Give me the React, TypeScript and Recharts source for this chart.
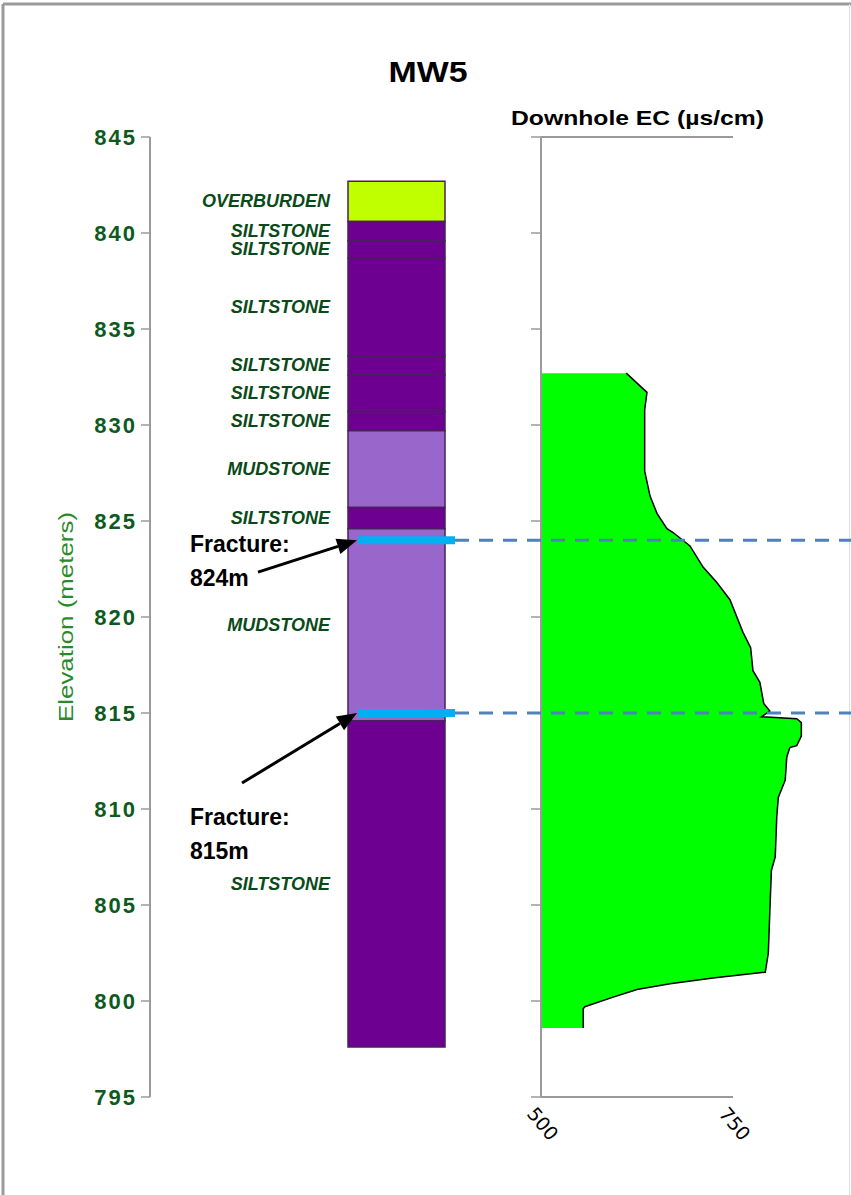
import React from "react";
import { ComposedChart, Area, XAxis, YAxis, ReferenceArea, ReferenceLine } from "recharts";

// lithology log, elevations in metres
const unitNames = [
    "OVERBURDEN", "SILTSTONE", "SILTSTONE", "SILTSTONE", "SILTSTONE", "SILTSTONE",
    "SILTSTONE", "MUDSTONE", "SILTSTONE", "MUDSTONE", "SILTSTONE",
];
const unitTops = [842.7, 840.6, 839.6, 838.7, 833.6, 832.6, 830.7, 829.7, 825.7, 824.6, 814.6];
const unitBottoms = [840.6, 839.6, 838.7, 833.6, 832.6, 830.7, 829.7, 825.7, 824.6, 814.6, 797.6];

// fracture elevations (m)
const fractures = [824, 815];

// downhole EC profile
const ecElevation = [
    832.7, 831.7, 830.8, 829.0, 827.6, 826.3, 825.4, 824.6, 824.4, 823.7, 822.6, 821.8,
    820.9, 819.2, 818.4, 817.2, 816.6, 815.5, 815.1, 814.8, 814.7, 814.5, 813.8, 813.3,
    813.2, 812.7, 811.5, 810.6, 809.6, 807.5, 806.8, 804.7, 802.5, 801.5, 801.2, 800.9,
    800.6, 800.2, 799.7, 799.6, 798.6,
];
const ecValues = [
    611, 638, 635, 635, 635, 642, 651, 664, 672, 694, 711, 729,
    746, 763, 773, 776, 785, 790, 798, 787, 833, 839, 839, 833,
    824, 820, 818, 809, 807, 805, 800, 798, 796, 792, 724, 668,
    625, 594, 557, 555, 555,
];

const elevTicks = [795, 800, 805, 810, 815, 820, 825, 830, 835, 840, 845];
const ecTicks = [500, 750];

const unitColors: Record<string, string> = {
    OVERBURDEN: "#C0FF00",
    SILTSTONE: "#6E0091",
    MUDSTONE: "#9966CC",
};

const unitRows = unitNames.map((name, i) => ({ name, top: unitTops[i], bottom: unitBottoms[i] }));
const ecData = ecElevation.map((elev, i) => ({ elev, ec: ecValues[i] }));

// column geometry in the log chart's x units (pixels from the axis)
const COL_X0 = 198;
const COL_X1 = 295;
const FRAC_X0 = 208;
const FRAC_X1 = 305;
const X_MAX = 701;

// EC panel: 500..750 spans 192px; the plot runs on to the page edge so the peak is not clipped
const EC_MIN = 500;
const EC_MAX = 750;
const EC_VIEW_MAX = EC_MIN + (310 * (EC_MAX - EC_MIN)) / 192;

// where each fracture note sits: arrow tail (x, elevation) and text offset from the tail
const noteTails = [
    { x: 108, elev: 822.34, dx: -68, dy: -20 },
    { x: 92, elev: 811.35, dx: -52, dy: 42 },
];

const ARIAL = "'Liberation Sans', Arial, sans-serif";
const VERDANA = "'DejaVu Sans', Verdana, sans-serif";
const AXIS_GREY = "#9a9a9a";

const ElevTick = ({ x, y, payload }: any) => (
    <text x={x} y={y} textAnchor="end" dominantBaseline="central" fill="#0E5A1E"
        fontFamily={ARIAL} fontWeight="bold" fontSize={22} letterSpacing={2}>
        {payload.value}
    </text>
);

const EcTick = ({ x, y, payload }: any) => (
    <text x={x - 4} y={y} dy="0.75em" transform={`rotate(50 ${x - 4} ${y})`} textAnchor="start"
        fill="#000" fontFamily={VERDANA} fontSize={19}>
        {payload.value}
    </text>
);

const NoTick = () => <g />;

const unitLabel = (name: string) => ({ viewBox }: any) => (
    <text x={viewBox.x - 18} y={viewBox.y + viewBox.height / 2} textAnchor="end" dominantBaseline="central"
        fill="#0A4A19" fontFamily={ARIAL} fontWeight="bold" fontStyle="italic" fontSize={18}>
        {name}
    </text>
);

const elevLabel = ({ viewBox }: any) => {
    const cx = viewBox.x + 65;
    const cy = viewBox.y + viewBox.height / 2;
    return (
        <text x={cx} y={cy} transform={`rotate(-90 ${cx} ${cy})`} textAnchor="middle" dominantBaseline="central"
            fill="#2A8A2A" fontFamily={ARIAL} fontSize={21} textLength={210} lengthAdjust="spacingAndGlyphs">
            Elevation (meters)
        </text>
    );
};

// arrow from the note to the fracture, with the note text beside the tail
const fractureNote = (elev: number, dx: number, dy: number) => (p: any) => {
    const { x1, y1, x2, y2 } = p;
    const a = Math.atan2(y2 - y1, x2 - x1);
    const len = 20;
    const half = 8;
    const bx = x2 - len * Math.cos(a);
    const by = y2 - len * Math.sin(a);
    const pts = [
        [x2, y2],
        [bx - half * Math.sin(a), by + half * Math.cos(a)],
        [bx + half * Math.sin(a), by - half * Math.cos(a)],
    ].map((q) => q.join(",")).join(" ");
    return (
        <g>
            <line x1={x1} y1={y1} x2={bx} y2={by} stroke="#000" strokeWidth={3} />
            <polygon points={pts} fill="#000" />
            <text x={x1 + dx} y={y1 + dy} fill="#000" fontFamily={ARIAL} fontWeight="bold" fontSize={23}>
                Fracture:
            </text>
            <text x={x1 + dx} y={y1 + dy + 34} fill="#000" fontFamily={ARIAL} fontWeight="bold" fontSize={23}>
                {`${elev}m`}
            </text>
        </g>
    );
};

export default function App() {
    return (
        <div style={{ position: "absolute", left: 0, top: 0, width: 851, height: 1195, background: "#fff" }}>
            <svg width={851} height={1195} style={{ position: "absolute", left: 0, top: 0 }}>
                <line x1={3} y1={4} x2={851} y2={4} stroke={AXIS_GREY} strokeWidth={3} />
                <line x1={3} y1={4} x2={3} y2={1195} stroke={AXIS_GREY} strokeWidth={3} />
                <line x1={849.5} y1={4} x2={849.5} y2={1195} stroke="#ddd" strokeWidth={1} />
                <text x={428} y={82} textAnchor="middle" fontFamily={ARIAL} fontWeight="bold" fontSize={30}
                    textLength={79} lengthAdjust="spacingAndGlyphs" fill="#000">
                    MW5
                </text>
                <text x={511} y={125} fontFamily={ARIAL} fontWeight="bold" fontSize={21}
                    textLength={253} lengthAdjust="spacingAndGlyphs" fill="#000">
                    Downhole EC (µs/cm)
                </text>
            </svg>

            {/* EC profile */}
            <div style={{ position: "absolute", left: 0, top: 0 }}>
                <ComposedChart layout="vertical" width={851} height={1195} data={ecData}
                    margin={{ top: 137, right: 0, bottom: 38, left: 531 }}>
                    <XAxis type="number" dataKey="ec" domain={[EC_MIN, EC_VIEW_MAX]} ticks={ecTicks} interval={0}
                        height={60} tickLine={false} axisLine={false} tick={<EcTick />} />
                    <YAxis type="number" dataKey="elev" domain={[795, 845]} ticks={elevTicks} interval={0}
                        reversed width={10} tickSize={10} tick={NoTick}
                        axisLine={{ stroke: AXIS_GREY, strokeWidth: 2 }}
                        tickLine={{ stroke: AXIS_GREY, strokeWidth: 1.5 }} />
                    <Area type="linear" dataKey="ec" stroke="#000" strokeWidth={1.5} fill="#00FF00"
                        fillOpacity={1} dot={false} activeDot={false} isAnimationActive={false} />
                    <ReferenceLine segment={[{ x: EC_MIN, y: 845 }, { x: EC_MAX, y: 845 }]}
                        stroke={AXIS_GREY} strokeWidth={2} />
                    <ReferenceLine segment={[{ x: EC_MIN, y: 795 }, { x: EC_MAX, y: 795 }]}
                        stroke={AXIS_GREY} strokeWidth={2} />
                </ComposedChart>
            </div>

            {/* lithology column and elevation axis */}
            <div style={{ position: "absolute", left: 0, top: 0 }}>
                <ComposedChart layout="vertical" width={851} height={1195} data={unitRows}
                    margin={{ top: 137, right: 0, bottom: 98, left: 0 }}>
                    <XAxis type="number" domain={[0, X_MAX]} allowDataOverflow hide />
                    <YAxis type="number" dataKey="top" domain={[795, 845]} ticks={elevTicks} interval={0}
                        allowDataOverflow reversed width={150} tickSize={9} tickMargin={4} tick={<ElevTick />}
                        axisLine={{ stroke: AXIS_GREY, strokeWidth: 2 }}
                        tickLine={{ stroke: AXIS_GREY, strokeWidth: 1.5 }}
                        label={{ content: elevLabel }} />
                    {unitRows.map((u, i) => (
                        <ReferenceArea key={`unit-${i}`} x1={COL_X0} x2={COL_X1} y1={u.bottom} y2={u.top}
                            fill={unitColors[u.name]} fillOpacity={1} stroke="#4A1F5E" strokeWidth={1.5}
                            label={{ content: unitLabel(u.name) }} />
                    ))}
                    {fractures.map((elev, i) => (
                        <ReferenceLine key={`dash-${i}`} segment={[{ x: FRAC_X1, y: elev }, { x: X_MAX, y: elev }]}
                            stroke="#4F81BD" strokeWidth={3} strokeDasharray="14 10" />
                    ))}
                    {fractures.map((elev, i) => (
                        <ReferenceLine key={`frac-${i}`} segment={[{ x: FRAC_X0, y: elev }, { x: FRAC_X1, y: elev }]}
                            stroke="#00B0F0" strokeWidth={8} />
                    ))}
                    {fractures.map((elev, i) => (
                        <ReferenceLine key={`note-${i}`}
                            segment={[{ x: noteTails[i].x, y: noteTails[i].elev }, { x: FRAC_X0 - 1, y: elev }]}
                            shape={fractureNote(elev, noteTails[i].dx, noteTails[i].dy)} />
                    ))}
                </ComposedChart>
            </div>
        </div>
    );
}
